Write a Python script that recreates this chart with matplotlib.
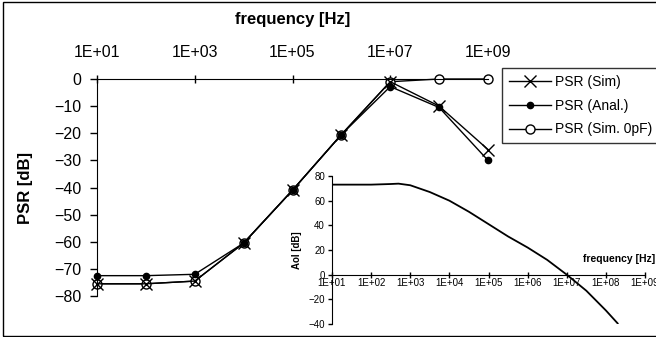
import matplotlib
matplotlib.use('Agg')
import matplotlib.pyplot as plt
import numpy as np

plt.rcParams['font.family'] = ['Liberation Sans', 'DejaVu Sans']

# main chart: power supply rejection vs frequency
freq = [1e1, 1e2, 1e3, 1e4, 1e5, 1e6, 1e7, 1e8, 1e9]
psr_sim = [-75.5, -75.5, -74.5, -60.5, -41, -20.5, -1, -10, -26]
psr_anal = [-72.5, -72.5, -72, -60.5, -41, -20.5, -2.8, -10.5, -30]
psr_0pf = [-75.5, -75.5, -74.5, -60.5, -41, -20.5, -1, 0, 0]

main_xticks = [1e1, 1e3, 1e5, 1e7, 1e9]
main_xlabels = ['1E+01', '1E+03', '1E+05', '1E+07', '1E+09']
main_yticks = [0, -10, -20, -30, -40, -50, -60, -70, -80]

# inset: open loop gain
aol_f = [10, 31.6, 100, 316, 500, 1e3, 3.16e3, 1e4, 3.16e4, 1e5,
         3.16e5, 1e6, 3.16e6, 1e7, 3.16e7, 1e8, 2.0e8]
aol_db = [73, 73, 73, 73.5, 73.8, 72.5, 67, 60, 51, 41,
          31, 22, 12, 0, -13, -29, -39.5]
inset_xticks = [1e1, 1e2, 1e3, 1e4, 1e5, 1e6, 1e7, 1e8, 1e9]
inset_xlabels = ['1E+01', '1E+02', '1E+03', '1E+04', '1E+05',
                 '1E+06', '1E+07', '1E+08', '1E+09']
inset_yticks = [80, 60, 40, 20, 0, -20, -40]

W, H = 656, 337
fig = plt.figure(figsize=(W / 100, H / 100), dpi=100)


def fig_rect(x0, y0, x1, y1):
    # pixel box (top-left origin) -> figure fraction
    return [x0 / W, 1 - y1 / H, (x1 - x0) / W, (y1 - y0) / H]


ax = fig.add_axes(fig_rect(97, 79, 488, 296))
ax.set_xscale('log')
ax.set_xlim(1e1, 1e9)
ax.set_ylim(-80, 0)

ax.plot(freq, psr_sim, color='black', lw=1, marker='x', ms=8, mew=1,
        clip_on=False, label='PSR (Sim)')
ax.plot(freq, psr_anal, color='black', lw=1, marker='o', ms=4.5,
        clip_on=False, label='PSR (Anal.)')
ax.plot(freq, psr_0pf, color='black', lw=1, marker='o', ms=6.5, mfc='white',
        mew=1, clip_on=False, label='PSR (Sim. 0pF)', zorder=1.9)

ax.xaxis.tick_top()
ax.xaxis.set_label_position('top')
ax.set_xticks(main_xticks)
ax.set_xticklabels(main_xlabels)
ax.xaxis.set_minor_locator(matplotlib.ticker.NullLocator())
ax.tick_params(axis='x', direction='inout', length=6, width=1, pad=11,
               labelsize=11.5)
ax.set_yticks(main_yticks)
ax.tick_params(axis='y', direction='out', length=5, width=1, pad=6,
               labelsize=11.5)
ax.spines['right'].set_visible(False)
ax.spines['bottom'].set_visible(False)
ax.set_xlabel('frequency [Hz]', fontsize=12, fontweight='bold', labelpad=15)
ax.set_ylabel('PSR [dB]', fontsize=12, fontweight='bold')
ax.yaxis.set_label_coords((33 - 97) / (488 - 97), 0.5)
ax.patch.set_alpha(0)

leg = fig.legend(loc='upper left', bbox_to_anchor=(502 / W, 1 - 68 / H),
                 fontsize=10, frameon=True, fancybox=False, edgecolor='black',
                 handlelength=3.0, handletextpad=0.3, labelspacing=0.7,
                 borderpad=0.5, borderaxespad=0)
leg.get_frame().set_linewidth(1)

# inset
ins = fig.add_axes(fig_rect(332, 176, 645, 324))
ins.set_xscale('log')
ins.set_xlim(1e1, 1e9)
ins.set_ylim(-40, 80)
ins.plot(aol_f, aol_db, color='black', lw=1.3)
ins.spines['top'].set_visible(False)
ins.spines['right'].set_visible(False)
ins.spines['bottom'].set_position(('data', 0))
ins.set_xticks(inset_xticks)
ins.set_xticklabels(inset_xlabels)
ins.xaxis.set_minor_locator(matplotlib.ticker.NullLocator())
ins.set_yticks(inset_yticks)
ins.tick_params(axis='x', direction='inout', length=4, width=1, pad=0.5,
                labelsize=7)
ins.tick_params(axis='y', direction='out', length=3, width=1, pad=2,
                labelsize=7)
for lab in ins.get_xticklabels():
    lab.set_clip_on(False)
ins.patch.set_alpha(0)
fig.text(297 / W, 1 - 250 / H, 'Aol [dB]', rotation=90, fontsize=7,
         fontweight='bold', ha='center', va='center')
fig.text(655 / W, 1 - 259 / H, 'frequency [Hz]', fontsize=7.5,
         fontweight='bold', ha='right', va='center')

# chart border (right edge falls outside the image)
fig.add_artist(plt.Rectangle((3 / W, 1.5 / H), 1.0, 1 - 3 / H,
                             transform=fig.transFigure, fill=False,
                             lw=1, ec='black'))

fig.savefig('out.png', dpi=100)
